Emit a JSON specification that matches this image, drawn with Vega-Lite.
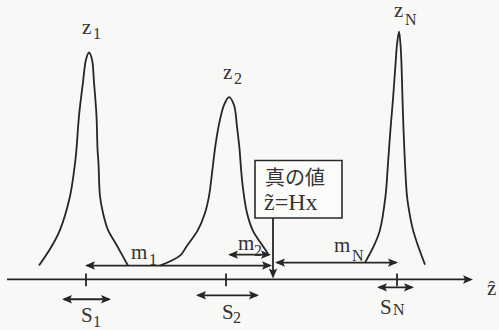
{
  "$schema": "https://vega.github.io/schema/vega-lite/v6.json",
  "width": 499,
  "height": 330,
  "autosize": {"type": "fit", "contains": "padding"},
  "padding": 0,
  "background": "#f8f8f6",
  "config": {"view": {"stroke": null}},
  "datasets": {
    "curves": [
      {"peak": "z1", "i": 0, "x": 39, "y": 268}, {"peak": "z1", "i": 1, "x": 52, "y": 248}, {"peak": "z1", "i": 2, "x": 60, "y": 232}, {"peak": "z1", "i": 3, "x": 70, "y": 198}, {"peak": "z1", "i": 4, "x": 75, "y": 165}, {"peak": "z1", "i": 5, "x": 76.5, "y": 150}, {"peak": "z1", "i": 6, "x": 79, "y": 117}, {"peak": "z1", "i": 7, "x": 83, "y": 83}, {"peak": "z1", "i": 8, "x": 86, "y": 60}, {"peak": "z1", "i": 9, "x": 89, "y": 53}, {"peak": "z1", "i": 10, "x": 92, "y": 60}, {"peak": "z1", "i": 11, "x": 94, "y": 83}, {"peak": "z1", "i": 12, "x": 96.5, "y": 117}, {"peak": "z1", "i": 13, "x": 97.5, "y": 150}, {"peak": "z1", "i": 14, "x": 98.5, "y": 165}, {"peak": "z1", "i": 15, "x": 100, "y": 198}, {"peak": "z1", "i": 16, "x": 103, "y": 215}, {"peak": "z1", "i": 17, "x": 108, "y": 232}, {"peak": "z1", "i": 18, "x": 117, "y": 248}, {"peak": "z1", "i": 19, "x": 128, "y": 268},
      {"peak": "z2", "i": 0, "x": 160, "y": 268}, {"peak": "z2", "i": 1, "x": 180, "y": 258}, {"peak": "z2", "i": 2, "x": 187, "y": 248}, {"peak": "z2", "i": 3, "x": 198, "y": 232}, {"peak": "z2", "i": 4, "x": 205, "y": 215}, {"peak": "z2", "i": 5, "x": 209, "y": 198}, {"peak": "z2", "i": 6, "x": 212, "y": 175}, {"peak": "z2", "i": 7, "x": 215, "y": 150}, {"peak": "z2", "i": 8, "x": 218.5, "y": 128}, {"peak": "z2", "i": 9, "x": 224, "y": 106}, {"peak": "z2", "i": 10, "x": 229, "y": 98}, {"peak": "z2", "i": 11, "x": 234, "y": 106}, {"peak": "z2", "i": 12, "x": 237, "y": 128}, {"peak": "z2", "i": 13, "x": 239.5, "y": 150}, {"peak": "z2", "i": 14, "x": 241, "y": 170}, {"peak": "z2", "i": 15, "x": 243, "y": 190}, {"peak": "z2", "i": 16, "x": 247, "y": 215}, {"peak": "z2", "i": 17, "x": 253, "y": 233}, {"peak": "z2", "i": 18, "x": 262, "y": 247}, {"peak": "z2", "i": 19, "x": 268, "y": 256},
      {"peak": "zN", "i": 0, "x": 365, "y": 265}, {"peak": "zN", "i": 1, "x": 374, "y": 248}, {"peak": "zN", "i": 2, "x": 380, "y": 232}, {"peak": "zN", "i": 3, "x": 385.5, "y": 198}, {"peak": "zN", "i": 4, "x": 388, "y": 165}, {"peak": "zN", "i": 5, "x": 390.5, "y": 130}, {"peak": "zN", "i": 6, "x": 393, "y": 100}, {"peak": "zN", "i": 7, "x": 395.5, "y": 65}, {"peak": "zN", "i": 8, "x": 397, "y": 45}, {"peak": "zN", "i": 9, "x": 399, "y": 32}, {"peak": "zN", "i": 10, "x": 400.5, "y": 45}, {"peak": "zN", "i": 11, "x": 401.5, "y": 65}, {"peak": "zN", "i": 12, "x": 402.5, "y": 100}, {"peak": "zN", "i": 13, "x": 403.5, "y": 130}, {"peak": "zN", "i": 14, "x": 405, "y": 165}, {"peak": "zN", "i": 15, "x": 407, "y": 198}, {"peak": "zN", "i": 16, "x": 409.5, "y": 215}, {"peak": "zN", "i": 17, "x": 413, "y": 232}, {"peak": "zN", "i": 18, "x": 418, "y": 248}, {"peak": "zN", "i": 19, "x": 425, "y": 267}
    ],
    "segs": [
      {"x": 7, "y": 282, "x2": 468, "y2": 282},
      {"x": 87, "y": 268, "x2": 270, "y2": 268},
      {"x": 230, "y": 257, "x2": 269, "y2": 257},
      {"x": 277, "y": 265, "x2": 396, "y2": 265},
      {"x": 273, "y": 220, "x2": 273, "y2": 279},
      {"x": 86, "y": 276, "x2": 86, "y2": 289},
      {"x": 226, "y": 276, "x2": 226, "y2": 289},
      {"x": 397, "y": 276, "x2": 397, "y2": 289},
      {"x": 64, "y": 302, "x2": 109, "y2": 302},
      {"x": 198, "y": 298, "x2": 257, "y2": 298},
      {"x": 379, "y": 290, "x2": 412, "y2": 290}
    ],
    "heads": [
      {"x": 473, "y": 282, "dir": "right"},
      {"x": 85, "y": 268, "dir": "left"},
      {"x": 272, "y": 268, "dir": "right"},
      {"x": 228, "y": 257, "dir": "left"},
      {"x": 271, "y": 257, "dir": "right"},
      {"x": 275, "y": 265, "dir": "left"},
      {"x": 398, "y": 265, "dir": "right"},
      {"x": 273, "y": 281, "dir": "down"},
      {"x": 62, "y": 302, "dir": "left"},
      {"x": 111, "y": 302, "dir": "right"},
      {"x": 196, "y": 298, "dir": "left"},
      {"x": 259, "y": 298, "dir": "right"},
      {"x": 377, "y": 290, "dir": "left"},
      {"x": 414, "y": 290, "dir": "right"}
    ],
    "box": [{"x": 255, "y": 162, "x2": 342, "y2": 220}],
    "labels": [
      {"x": 82, "y": 34, "text": "z", "kind": "main"}, {"x": 93, "y": 39, "text": "1", "kind": "sub"},
      {"x": 223, "y": 80, "text": "z", "kind": "main"}, {"x": 234, "y": 85, "text": "2", "kind": "sub"},
      {"x": 394, "y": 17, "text": "z", "kind": "main"}, {"x": 405, "y": 25, "text": "N", "kind": "sub"},
      {"x": 131, "y": 261, "text": "m", "kind": "main"}, {"x": 149, "y": 267, "text": "1", "kind": "sub"},
      {"x": 238, "y": 252, "text": "m", "kind": "main"}, {"x": 254, "y": 258, "text": "2", "kind": "sub"},
      {"x": 334, "y": 254, "text": "m", "kind": "main"}, {"x": 352, "y": 263, "text": "N", "kind": "sub"},
      {"x": 81, "y": 325, "text": "S", "kind": "main"}, {"x": 93, "y": 330, "text": "1", "kind": "sub"},
      {"x": 222, "y": 322, "text": "S", "kind": "main"}, {"x": 233, "y": 326, "text": "2", "kind": "sub"},
      {"x": 380, "y": 317, "text": "S", "kind": "main"}, {"x": 393, "y": 318, "text": "N", "kind": "sub"},
      {"x": 487, "y": 298, "text": "ẑ", "kind": "main"},
      {"x": 264, "y": 212, "text": "z̃=Hx", "kind": "box"}
    ],
    "jp": [{"x": 295, "y": 187, "text": "真の値"}]
  },
  "layer": [
    {
      "data": {"name": "box"},
      "mark": {"type": "rect", "fill": "#fbfbfa", "stroke": "#2a2a2a", "strokeWidth": 1.6},
      "encoding": {
        "x": {"field": "x", "type": "quantitative", "scale": {"domain": [0, 499], "nice": false, "zero": false}, "axis": null},
        "x2": {"field": "x2"},
        "y": {"field": "y", "type": "quantitative", "scale": {"domain": [0, 330], "reverse": true, "nice": false, "zero": false}, "axis": null},
        "y2": {"field": "y2"}
      }
    },
    {
      "data": {"name": "curves"},
      "mark": {"type": "line", "interpolate": "catmull-rom", "color": "#262626", "strokeWidth": 1.8},
      "encoding": {
        "x": {"field": "x", "type": "quantitative", "scale": {"domain": [0, 499], "nice": false, "zero": false}, "axis": null},
        "y": {"field": "y", "type": "quantitative", "scale": {"domain": [0, 330], "reverse": true, "nice": false, "zero": false}, "axis": null},
        "detail": {"field": "peak"},
        "order": {"field": "i", "type": "quantitative"}
      }
    },
    {
      "data": {"name": "segs"},
      "mark": {"type": "rule", "color": "#262626", "strokeWidth": 1.8},
      "encoding": {
        "x": {"field": "x", "type": "quantitative", "scale": {"domain": [0, 499], "nice": false, "zero": false}, "axis": null},
        "x2": {"field": "x2"},
        "y": {"field": "y", "type": "quantitative", "scale": {"domain": [0, 330], "reverse": true, "nice": false, "zero": false}, "axis": null},
        "y2": {"field": "y2"}
      }
    },
    {
      "data": {"name": "heads"},
      "mark": {"type": "point", "filled": true, "opacity": 1, "size": 400, "color": "#262626"},
      "encoding": {
        "x": {"field": "x", "type": "quantitative", "scale": {"domain": [0, 499], "nice": false, "zero": false}, "axis": null},
        "y": {"field": "y", "type": "quantitative", "scale": {"domain": [0, 330], "reverse": true, "nice": false, "zero": false}, "axis": null},
        "shape": {"field": "dir", "type": "nominal", "legend": null, "scale": {"domain": ["right", "left", "down"], "range": ["M0,0L-1,-0.42L-0.8,0L-1,0.42Z", "M0,0L1,-0.42L0.8,0L1,0.42Z", "M0,0L-0.42,-1L0,-0.8L0.42,-1Z"]}}
      }
    },
    {
      "data": {"name": "labels"},
      "transform": [{"filter": "datum.kind === 'main'"}],
      "mark": {"type": "text", "font": "'Liberation Serif', 'DejaVu Serif', serif", "fontSize": 21, "align": "left", "baseline": "alphabetic", "color": "#333333"},
      "encoding": {
        "x": {"field": "x", "type": "quantitative", "scale": {"domain": [0, 499], "nice": false, "zero": false}, "axis": null},
        "y": {"field": "y", "type": "quantitative", "scale": {"domain": [0, 330], "reverse": true, "nice": false, "zero": false}, "axis": null},
        "text": {"field": "text"}
      }
    },
    {
      "data": {"name": "labels"},
      "transform": [{"filter": "datum.kind === 'box'"}],
      "mark": {"type": "text", "font": "'Liberation Serif', 'DejaVu Serif', serif", "fontSize": 24, "align": "left", "baseline": "alphabetic", "color": "#333333"},
      "encoding": {
        "x": {"field": "x", "type": "quantitative", "scale": {"domain": [0, 499], "nice": false, "zero": false}, "axis": null},
        "y": {"field": "y", "type": "quantitative", "scale": {"domain": [0, 330], "reverse": true, "nice": false, "zero": false}, "axis": null},
        "text": {"field": "text"}
      }
    },
    {
      "data": {"name": "labels"},
      "transform": [{"filter": "datum.kind === 'sub'"}],
      "mark": {"type": "text", "font": "'Liberation Serif', 'DejaVu Serif', serif", "fontSize": 16, "align": "left", "baseline": "alphabetic", "color": "#333333"},
      "encoding": {
        "x": {"field": "x", "type": "quantitative", "scale": {"domain": [0, 499], "nice": false, "zero": false}, "axis": null},
        "y": {"field": "y", "type": "quantitative", "scale": {"domain": [0, 330], "reverse": true, "nice": false, "zero": false}, "axis": null},
        "text": {"field": "text"}
      }
    },
    {
      "data": {"name": "jp"},
      "mark": {"type": "text", "font": "Noto Sans CJK JP", "fontSize": 20, "align": "center", "baseline": "alphabetic", "color": "#333333"},
      "encoding": {
        "x": {"field": "x", "type": "quantitative", "scale": {"domain": [0, 499], "nice": false, "zero": false}, "axis": null},
        "y": {"field": "y", "type": "quantitative", "scale": {"domain": [0, 330], "reverse": true, "nice": false, "zero": false}, "axis": null},
        "text": {"field": "text"}
      }
    }
  ]
}
